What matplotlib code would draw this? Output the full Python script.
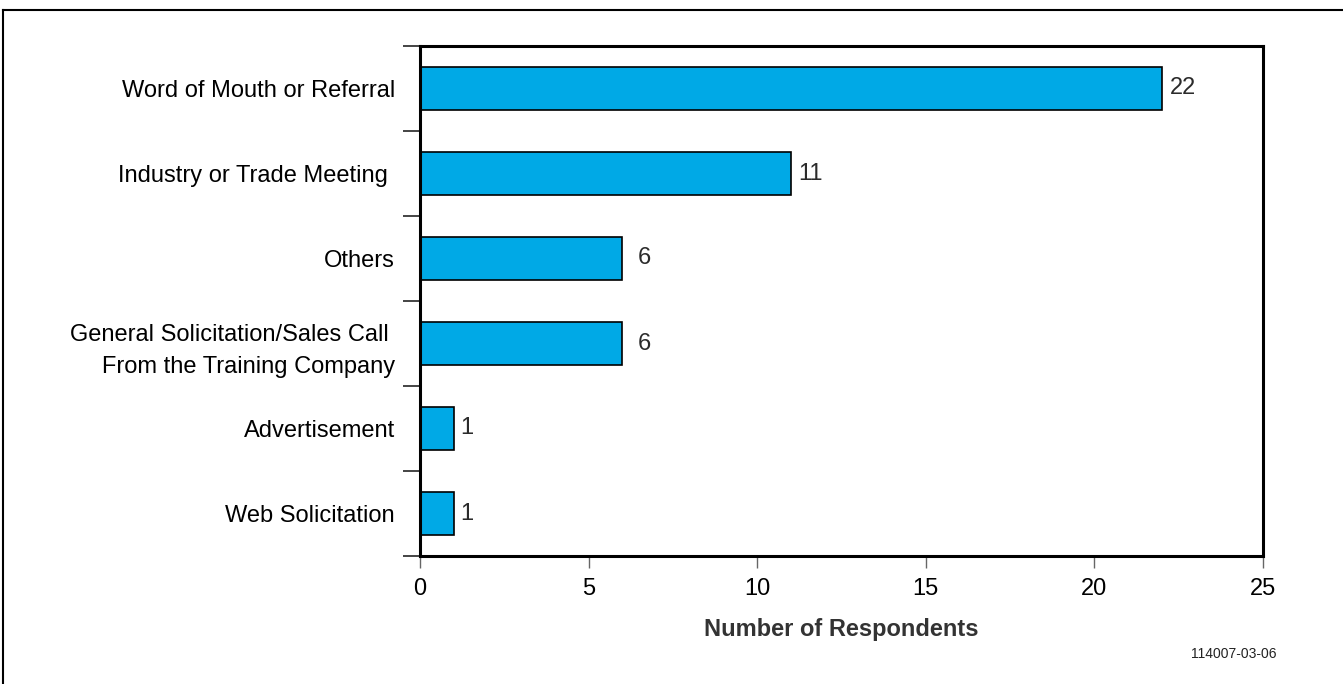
import matplotlib.pyplot as plt
from matplotlib.lines import Line2D
import numpy as np

plt.rcParams['font.family'] = ['Liberation Sans', 'DejaVu Sans']

# categories from top to bottom
categories = ['Word of Mouth or Referral',
              'Industry or Trade Meeting ',
              'Others',
              'General Solicitation/Sales Call \nFrom the Training Company',
              'Advertisement',
              'Web Solicitation']
respondents = [22, 11, 6, 6, 1, 1]
x_ticks = [0, 5, 10, 15, 20, 25]

bar_color = '#00A9E6'

fig = plt.figure(figsize=(13.43, 6.84), dpi=100)
ax = fig.add_axes([420/1343, 1-556/684, (1263-420)/1343, (556-46)/684])

# bars drawn bottom-up so the first category sits on top
ypos = np.arange(len(categories))[::-1]
ax.barh(ypos, respondents, height=0.5, color=bar_color,
        edgecolor='black', linewidth=1.2, zorder=2)

# value labels, the "6" ones sit a bit further out in the original
offsets = [6, 5, 11, 11, 5, 5]
for y, v, off in zip(ypos, respondents, offsets):
    ax.annotate(str(v), (v, y), xytext=(off, 0), textcoords='offset points',
                ha='left', va='center', fontsize=17, color='#2b2b2b')

ax.set_xlim(0, 25)
ax.set_ylim(-0.5, len(categories) - 0.5)
ax.set_xticks(x_ticks)
ax.tick_params(axis='x', direction='out', length=8.5, width=1, color='#666666',
               labelsize=17, pad=7)

# ticks on category boundaries, labels at the centres
ax.set_yticks(np.arange(-0.5, len(categories), 1.0))
ax.set_yticklabels([])
ax.tick_params(axis='y', which='major', direction='out', length=12, width=1.4,
               color='#444444')
ax.set_yticks(ypos, minor=True)
ax.set_yticklabels(categories, minor=True, fontsize=17, ha='right',
                   multialignment='right', linespacing=1.6)
ax.tick_params(axis='y', which='minor', length=0, pad=18)

for s in ax.spines.values():
    s.set_linewidth(2.2)
    s.set_color('black')
    s.set_zorder(3)

ax.set_xlabel('Number of Respondents', fontsize=17, fontweight='bold',
              color='#333333', labelpad=13)

fig.text(1276/1343, 1-654/684, '114007-03-06', ha='right', va='center',
         fontsize=10, color='#222222')

# outer frame (open on the right and bottom)
fig.add_artist(Line2D([3/1343, 1.0], [1-10/684, 1-10/684],
                      transform=fig.transFigure, color='black', linewidth=1.5))
fig.add_artist(Line2D([3/1343, 3/1343], [0.0, 1-10/684],
                      transform=fig.transFigure, color='black', linewidth=1.5))

fig.savefig('out.png', dpi=100)
